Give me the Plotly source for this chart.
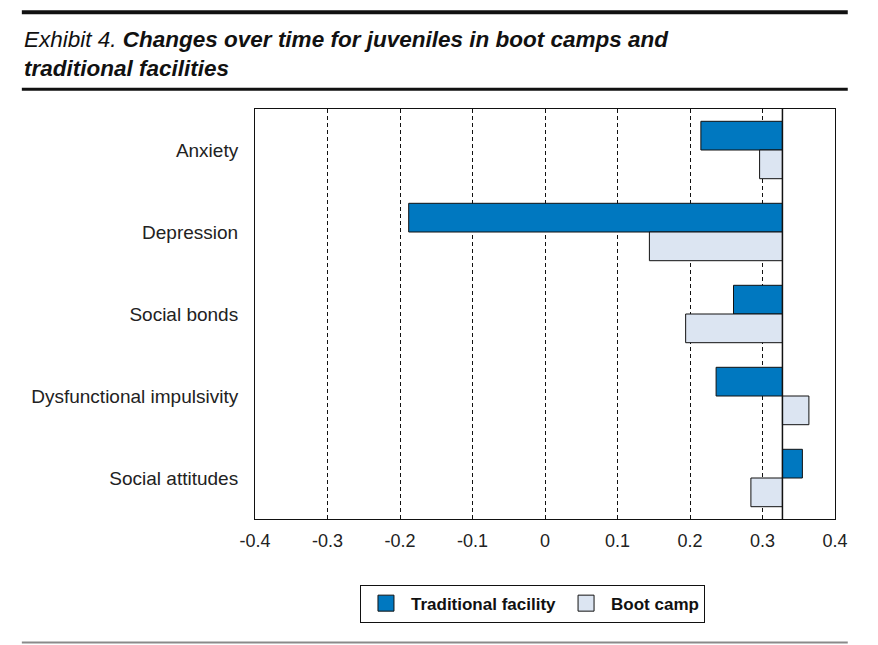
"""Exhibit 4: changes over time for juveniles in boot camps and traditional facilities."""

import plotly.graph_objects as go

measures = ["Anxiety", "Depression", "Social bonds",
            "Dysfunctional impulsivity", "Social attitudes"]
traditional = [0.215, -0.188, 0.260, 0.236, 0.355]
boot_camp = [0.296, 0.144, 0.194, 0.364, 0.284]
baseline = 0.3275  # bars are drawn from this reference value

tick_vals = [-0.4, -0.3, -0.2, -0.1, 0, 0.1, 0.2, 0.3, 0.4]
tick_text = ["-0.4", "-0.3", "-0.2", "-0.1", "0", "0.1", "0.2", "0.3", "0.4"]

BLUE = "#0078c0"
PALE = "#dce5f2"
FONT = "Liberation Sans, Arial, sans-serif"

fig = go.Figure()

fig.add_trace(go.Bar(
    y=measures, x=[v - baseline for v in traditional], base=baseline,
    orientation="h", name="Traditional facility",
    marker=dict(color=BLUE, line=dict(color="#111", width=1)),
    showlegend=False,
))
fig.add_trace(go.Bar(
    y=measures, x=[v - baseline for v in boot_camp], base=baseline,
    orientation="h", name="Boot camp",
    marker=dict(color=PALE, line=dict(color="#111", width=1)),
    showlegend=False,
))

# legend swatches (bigger than the default bar icons)
for name, color in [("Traditional facility", BLUE), ("Boot camp", PALE)]:
    fig.add_trace(go.Scatter(
        x=[None], y=[None], mode="markers", name=name,
        marker=dict(symbol="square", size=16, color=color,
                    line=dict(color="#111", width=1)),
    ))

fig.add_vline(x=baseline, line=dict(color="#111", width=1.5))

# rules above and below the exhibit
fig.add_shape(type="line", xref="paper", yref="paper",
              x0=-0.402, x1=1.022, y0=1.236, y1=1.236,
              line=dict(color="#111", width=4))
fig.add_shape(type="line", xref="paper", yref="paper",
              x0=-0.402, x1=1.022, y0=1.048, y1=1.048,
              line=dict(color="#111", width=3))
fig.add_shape(type="line", xref="paper", yref="paper",
              x0=-0.402, x1=1.022, y0=-0.301, y1=-0.301,
              line=dict(color="#8a8a8a", width=2))

fig.add_annotation(
    xref="paper", yref="paper", x=-0.402, y=1.134,
    xanchor="left", yanchor="middle", align="left", showarrow=False,
    text="<i>Exhibit 4.</i> <b><i>Changes over time for juveniles in boot camps and"
         "<br>traditional facilities</i></b>",
    font=dict(family="Liberation Sans Narrow, Arial Narrow, Liberation Sans",
              size=22.5, color="#111"),
)

# page body has an 8px margin, so the figure is sized to fit inside it
fig.update_layout(
    width=870, height=637,
    margin=dict(l=247, r=43, t=101, b=126),
    paper_bgcolor="white", plot_bgcolor="white",
    font=dict(family=FONT, size=18, color="#222"),
    barmode="group", bargap=0.3, bargroupgap=0,
    legend=dict(
        orientation="h", x=0.181, y=-0.16, xanchor="left", yanchor="top",
        bordercolor="#111", borderwidth=1, traceorder="normal",
        itemwidth=40,
        font=dict(family=FONT, size=17, color="#111", weight="bold"),
    ),
)

fig.update_xaxes(
    range=[-0.4, 0.4], tickvals=tick_vals, ticktext=tick_text,
    showgrid=True, gridcolor="#111", gridwidth=1, griddash="4px,3px",
    zeroline=False, showline=True, mirror=True, linecolor="#111", linewidth=1,
    ticks="", ticklabelstandoff=5, tickfont=dict(size=18),
)
fig.update_yaxes(
    type="category", categoryorder="array", categoryarray=measures,
    autorange="reversed", showgrid=False, zeroline=False,
    showline=True, mirror=True, linecolor="#111", linewidth=1,
    ticks="", ticklabelstandoff=12, tickfont=dict(size=19),
)

fig.write_html("out.html")
